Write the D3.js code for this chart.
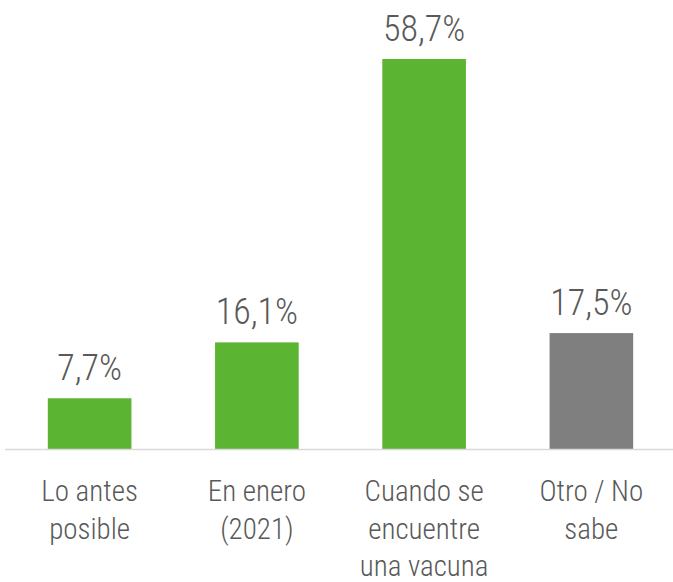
<!DOCTYPE html>
<html><head><meta charset="utf-8">
<script src="https://cdn.jsdelivr.net/npm/d3@7"></script>
<style>body{margin:0;background:#fff}</style>
</head><body>
<svg id="c" width="673" height="582"></svg>
<script>
const categories = [["Lo antes","posible"],["En enero","(2021)"],["Cuando se","encuentre","una vacuna"],["Otro / No","sabe"]];
const values = [7.7, 16.1, 58.7, 17.5];
const labels = ["7,7%","16,1%","58,7%","17,5%"];
const colors = ["#5BB432","#5BB432","#5BB432","#7F7F7F"];

const svg = d3.select("#c");
const font = "'Liberation Sans Narrow','Roboto Condensed','Open Sans',sans-serif";
const baseY = 449.5;
const x = d3.scaleBand().domain(d3.range(values.length)).range([6, 675]).paddingInner(0.5).paddingOuter(0.25);
const y = d3.scaleLinear().domain([0, 58.7]).range([baseY, 59]);

svg.selectAll("rect.bar").data(values).join("rect")
  .attr("x", (d,i)=>x(i)).attr("width", x.bandwidth())
  .attr("y", d=>y(d)).attr("height", d=>baseY - y(d))
  .attr("fill", (d,i)=>colors[i]);

svg.append("line").attr("x1",5).attr("x2",673).attr("y1",baseY).attr("y2",baseY)
  .attr("stroke","#D9D9D9").attr("stroke-width",1.5);

svg.selectAll("text.val").data(values).join("text")
  .attr("x",(d,i)=>x(i)+x.bandwidth()/2).attr("y", d=>y(d)-18)
  .attr("text-anchor","middle").attr("fill","#595959")
  .style("font-family",font).style("font-size","36px").style("font-weight",300)
  .text((d,i)=>labels[i]);

categories.forEach((lines,i)=>{
  const t = svg.append("text").attr("text-anchor","middle").attr("fill","#595959")
    .style("font-family",font).style("font-size","29px").style("font-weight",300);
  lines.forEach((l,j)=>{
    t.append("tspan").attr("x", x(i)+x.bandwidth()/2).attr("y", 501 + j*37.5).text(l);
  });
});
</script>
</body></html>
